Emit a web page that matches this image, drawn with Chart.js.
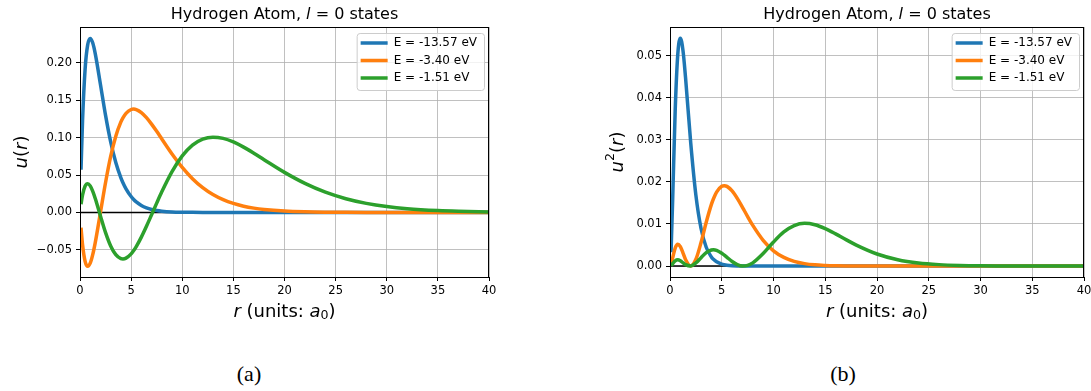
<!DOCTYPE html>
<html>
<head>
<meta charset="utf-8">
<script src="https://cdn.jsdelivr.net/npm/chart.js@4.4.0/dist/chart.umd.min.js"></script>
<style>
    body { margin: 0; width: 1091px; height: 391px; overflow: hidden; background: #fff; position: relative; }
    canvas { position: absolute; top: 0; }
    #graficaA { left: 0; }
    #graficaB { left: 590px; }
    .caption { position: absolute; top: 363px; line-height: 22px; font-family: "Liberation Serif", serif; font-size: 22px; transform: translateX(-50%); color: #000; }
</style>
</head>
<body>
<canvas id="graficaA" width="545" height="335"></canvas>
<canvas id="graficaB" width="520" height="335"></canvas>
<div class="caption" style="left:249px">(a)</div>
<div class="caption" style="left:843px">(b)</div>
<script>
// Radio r (unidades de a0)
const rValues = [0.1, 0.25, 0.5, 0.75, 1, 1.25, 1.5, 2, 2.5, 3, 3.5, 4, 4.2, 4.5, 5, 5.25, 5.5, 6, 6.5, 7, 7.5, 8,
    9, 10, 11, 12, 13, 14, 15, 16, 17, 18, 20, 22, 24, 26, 28, 30, 32, 35, 37, 40];

// Etiquetas de energía
const energias = ["E = -13.57 eV", "E = -3.40 eV", "E = -1.51 eV"];

// u(r) para n = 1, 2, 3
const u1 = [0.05723, 0.12315, 0.19182, 0.22408, 0.23268, 0.22652, 0.21169, 0.17120, 0.12980, 0.09447, 0.06685, 0.04634,
    0.03984, 0.03162, 0.02131, 0.01743, 0.01422, 0.00941, 0.00618, 0.00404, 0.00262, 0.00170,
    0.00070, 0.00029, 0.00012, 0.00005, 0.00002, 0.00001, 0, 0, 0, 0, 0, 0, 0, 0, 0, 0, 0, 0, 0, 0];
const u2 = [-0.02021, -0.04317, -0.06530, -0.07204, -0.06781, -0.05610, -0.03961, 0, 0.04004, 0.07484, 0.10200, 0.12104,
    0.12650, 0.13257, 0.13766, 0.13819, 0.13758, 0.13359, 0.12680, 0.11816, 0.10846, 0.09829,
    0.07824, 0.06026, 0.04524, 0.03326, 0.02403, 0.01713, 0.01206, 0.00839, 0.00579, 0.00396, 0.00183, 0.00082,
    0.00036, 0.00016, 0.00007, 0.00003, 0.00001, 0, 0, 0];
const u3 = [0.01100, 0.02346, 0.03529, 0.03850, 0.03553, 0.02832, 0.01845, -0.00463, -0.02694, -0.04477, -0.05650, -0.06178,
    -0.06218, -0.06110, -0.05534, -0.05089, -0.04558, -0.03294, -0.01846, -0.00306, 0.01249, 0.02756,
    0.05453, 0.07558, 0.08998, 0.09808, 0.10074, 0.09910, 0.09430, 0.08740, 0.07927, 0.07060, 0.05359, 0.03885,
    0.02707, 0.01836, 0.01217, 0.00790, 0.00504, 0.00251, 0.00154, 0.00073];

// u^2(r) para n = 1, 2, 3
const u1sq = [0.00328, 0.01517, 0.03680, 0.05021, 0.05414, 0.05131, 0.04481, 0.02931, 0.01685, 0.00893, 0.00447, 0.00215,
    0.00159, 0.00100, 0.00045, 0.00030, 0.00020, 0.00009, 0.00004, 0.00002, 0.00001, 0,
    0, 0, 0, 0, 0, 0, 0, 0, 0, 0, 0, 0, 0, 0, 0, 0, 0, 0, 0, 0];
const u2sq = [0.00041, 0.00186, 0.00426, 0.00519, 0.00460, 0.00315, 0.00157, 0, 0.00160, 0.00560, 0.01040, 0.01465,
    0.01600, 0.01758, 0.01895, 0.01910, 0.01893, 0.01785, 0.01608, 0.01396, 0.01176, 0.00966,
    0.00612, 0.00363, 0.00205, 0.00111, 0.00058, 0.00029, 0.00015, 0.00007, 0.00003, 0.00002, 0, 0,
    0, 0, 0, 0, 0, 0, 0, 0];
const u3sq = [0.00012, 0.00055, 0.00125, 0.00148, 0.00126, 0.00080, 0.00034, 0.00002, 0.00073, 0.00200, 0.00319, 0.00382,
    0.00387, 0.00373, 0.00306, 0.00259, 0.00208, 0.00109, 0.00034, 0.00001, 0.00016, 0.00076,
    0.00297, 0.00571, 0.00810, 0.00962, 0.01015, 0.00982, 0.00889, 0.00764, 0.00628, 0.00498, 0.00287, 0.00151,
    0.00073, 0.00034, 0.00015, 0.00006, 0.00003, 0.00001, 0, 0];

// Línea horizontal en cero
const lineaCeroR = [0, 40];

const colores = ["#1f77b4", "#ff7f0e", "#2ca02c"];
const fuente = '"DejaVu Sans"';

// Dibuja un texto formado por varias piezas (itálica, subíndices...) centrado en (cx, cy)
function dibujarPiezas(ctx, piezas, cx, cy, rotar) {
    ctx.save();
    ctx.translate(cx, cy);
    if (rotar) ctx.rotate(-Math.PI / 2);
    let total = 0;
    piezas.forEach(p => { ctx.font = p.f; total += ctx.measureText(p.t).width; });
    let x = -total / 2;
    ctx.textBaseline = "middle";
    ctx.textAlign = "left";
    ctx.fillStyle = "#000";
    piezas.forEach(p => {
        ctx.font = p.f;
        ctx.fillText(p.t, x, p.dy || 0);
        x += ctx.measureText(p.t).width;
    });
    ctx.restore();
}

// Plugin: marco, título, etiquetas de ejes y leyenda
const decoracion = {
    id: "decoracion",
    afterDraw(chart, args, opts) {
        const ctx = chart.ctx;
        const a = chart.chartArea;
        ctx.save();
        ctx.strokeStyle = "#000";
        ctx.lineWidth = 1;
        ctx.strokeRect(Math.round(a.left) + 0.5, Math.round(a.top) + 0.5, Math.round(a.right - a.left) - 1, Math.round(a.bottom - a.top));
        ctx.restore();

        const cx = (a.left + a.right) / 2;
        dibujarPiezas(ctx, [
            { t: "Hydrogen Atom, ", f: "16px " + fuente },
            { t: "l", f: "italic 16px " + fuente },
            { t: " = 0 states", f: "16px " + fuente }
        ], cx, a.top - 12);

        dibujarPiezas(ctx, [
            { t: "r", f: "italic 18px " + fuente },
            { t: " (units: ", f: "18px " + fuente },
            { t: "a", f: "italic 18px " + fuente },
            { t: "0", f: "12.6px " + fuente, dy: 4 },
            { t: ")", f: "18px " + fuente }
        ], cx, a.bottom + 35);

        dibujarPiezas(ctx, opts.yTitulo, a.left - opts.yTituloOffset, (a.top + a.bottom) / 2, true);

        // Leyenda
        const sets = chart.data.datasets.filter(d => d.enLeyenda);
        ctx.save();
        ctx.font = "12px " + fuente;
        const anchoTexto = Math.max(...sets.map(d => ctx.measureText(d.label).width));
        const ancho = 38 + anchoTexto + 6;
        const alto = 57;
        const x0 = a.right - 5 - ancho;
        const y0 = a.top + 6;
        ctx.beginPath();
        ctx.roundRect(x0 + 0.5, y0 + 0.5, ancho, alto, 3);
        ctx.fillStyle = "rgba(255,255,255,0.8)";
        ctx.fill();
        ctx.strokeStyle = "#cccccc";
        ctx.lineWidth = 1;
        ctx.stroke();
        sets.forEach((d, i) => {
            const y = y0 + 10 + i * 17.5;
            ctx.beginPath();
            ctx.moveTo(x0 + 4, y);
            ctx.lineTo(x0 + 31, y);
            ctx.strokeStyle = d.borderColor;
            ctx.lineWidth = 3.5;
            ctx.stroke();
            ctx.fillStyle = "#000";
            ctx.textBaseline = "middle";
            ctx.fillText(d.label, x0 + 37, y);
        });
        ctx.restore();
    }
};

function puntos(valores) {
    return rValues.map((r, i) => ({ x: r, y: valores[i] }));
}

function crearGrafica(id, series, yMin, yMax, yStep, anchoDerecho, yTitulo, yTituloOffset) {
    const datasets = series.map((valores, i) => ({
        label: energias[i],
        data: puntos(valores),
        borderColor: colores[i],
        borderWidth: 3.5,
        pointRadius: 0,
        cubicInterpolationMode: "monotone",
        fill: false,
        order: 3 - i,
        enLeyenda: true
    }));
    datasets.push({
        label: "cero",
        data: lineaCeroR.map(r => ({ x: r, y: 0 })),
        borderColor: "#000",
        borderWidth: 1.5,
        pointRadius: 0,
        order: 4,
        enLeyenda: false
    });

    const ctx = document.getElementById(id).getContext("2d");
    return new Chart(ctx, {
        type: "line",
        data: { datasets: datasets },
        options: {
            responsive: false,
            animation: false,
            devicePixelRatio: 1,
            layout: { padding: { left: 0, top: 27, right: anchoDerecho, bottom: 0 } },
            plugins: {
                legend: { display: false },
                title: { display: false },
                tooltip: { enabled: false },
                decoracion: { yTitulo: yTitulo, yTituloOffset: yTituloOffset }
            },
            scales: {
                x: {
                    type: "linear",
                    min: 0,
                    max: 40,
                    afterFit: s => { s.height = 58; },
                    border: { display: false },
                    grid: { color: "#b0b0b0", lineWidth: 0.8, drawTicks: true, tickLength: 4, tickColor: "#000", tickWidth: 1 },
                    ticks: { stepSize: 5, padding: 3, color: "#000", font: { family: "DejaVu Sans", size: 11.5 }, maxRotation: 0,
                        callback: v => String(v) }
                },
                y: {
                    type: "linear",
                    min: yMin,
                    max: yMax,
                    afterFit: s => { s.width = 80; },
                    border: { display: false },
                    grid: { color: "#b0b0b0", lineWidth: 0.8, drawTicks: true, tickLength: 4, tickColor: "#000", tickWidth: 1 },
                    ticks: { stepSize: yStep, includeBounds: false, padding: 4, color: "#000", font: { family: "DejaVu Sans", size: 11.5 },
                        callback: v => (v < -1e-9 ? "\u2212" : "") + Math.abs(v).toFixed(2) }
                }
            }
        },
        plugins: [decoracion]
    });
}

crearGrafica("graficaA", [u1, u2, u3], -0.0863, 0.248, 0.05, 56, [
    { t: "u", f: "italic 18px " + fuente },
    { t: "(", f: "18px " + fuente },
    { t: "r", f: "italic 18px " + fuente },
    { t: ")", f: "18px " + fuente }
], 58);

crearGrafica("graficaB", [u1sq, u2sq, u3sq], -0.0026, 0.0568, 0.01, 26, [
    { t: "u", f: "italic 18px " + fuente },
    { t: "2", f: "12.6px " + fuente, dy: -7 },
    { t: "(", f: "18px " + fuente },
    { t: "r", f: "italic 18px " + fuente },
    { t: ")", f: "18px " + fuente }
], 52);
</script>
</body>
</html>
